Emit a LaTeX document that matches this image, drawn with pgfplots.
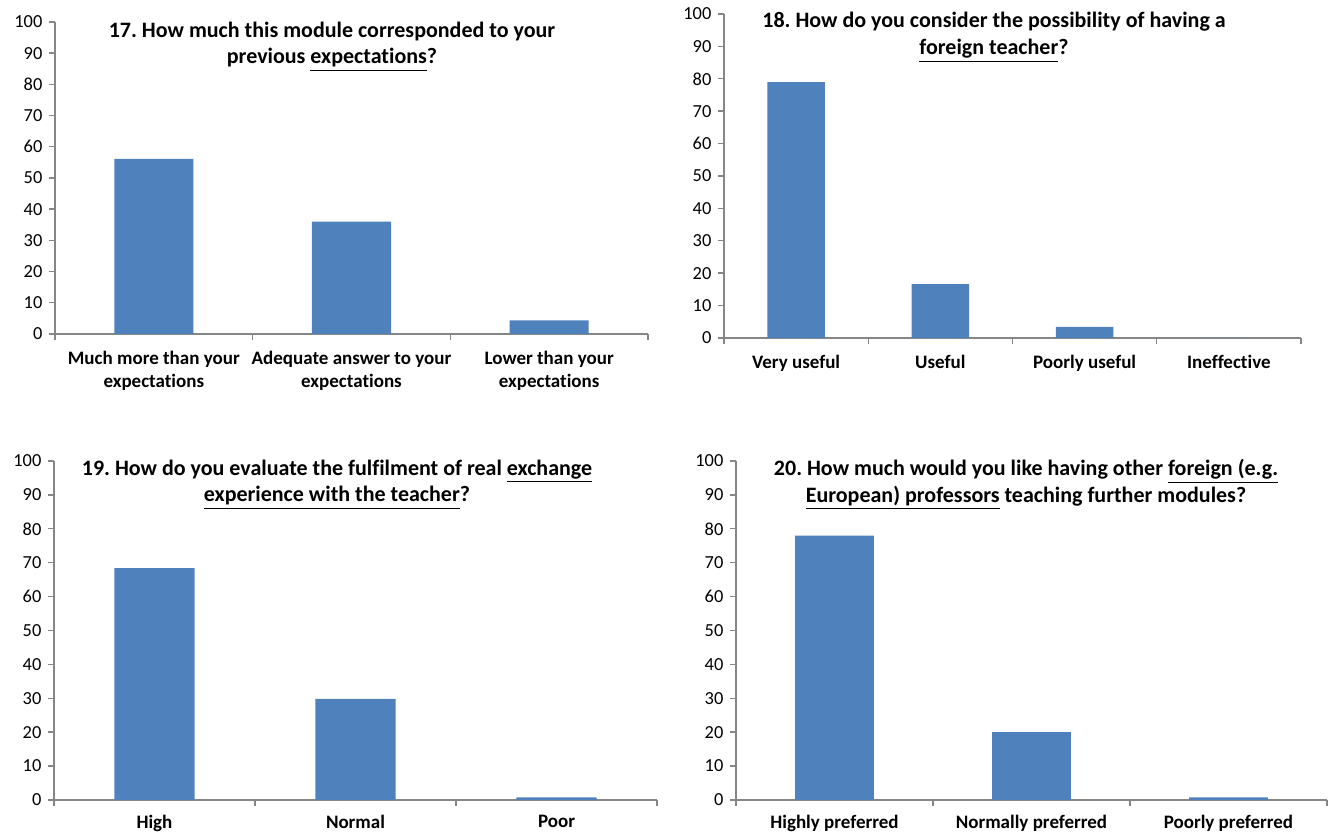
\documentclass[border=0pt]{standalone}
\usepackage{fontspec}
\setmainfont{Carlito}[Ligatures=NoCommon]
\usepackage{pgfplots}
\pgfplotsset{compat=1.18}
\frenchspacing

\definecolor{barblue}{HTML}{4F81BD}
\definecolor{axisgray}{HTML}{868686}

\pgfplotsset{
  survey/.style={
    scale only axis,
    anchor=south west,
    ymin=0, ymax=100, ytick={0,10,...,100},
    enlargelimits=false,
    axis lines*=left,
    axis line style={axisgray, line width=0.7pt},
    every tick/.style={axisgray, line width=0.7pt},
    tick align=outside,
    major tick length=2.8pt,
    minor tick length=2.8pt,
    major x tick style={draw=none},
    ybar, bar width=0.4,
    /pgf/number format/assume math mode=true,
    xticklabel style={font=\bfseries\fontsize{9.5}{11.5}\selectfont, align=center, text=black, yshift=-2.5pt},
    yticklabel style={font=\fontsize{9.2}{10}\selectfont, text=black},
  },
  survey bar/.style={fill=barblue, draw=none},
}

\begin{document}
\begin{tikzpicture}
\useasboundingbox (0,0) rectangle (664.5pt,417pt);

% Question 17
\begin{axis}[survey, at={(27.5pt,250pt)}, width=296.5pt, height=156pt,
  xmin=-0.5, xmax=2.5, xtick={0,1,2},
  minor xtick={-0.5,0.5,1.5,2.5},
  xticklabels={{Much more than your\\expectations},{Adequate answer to your\\expectations},{Lower than your\\expectations}}]
  \addplot[survey bar] coordinates {(0,56.1) (1,36.0) (2,4.4)};
\end{axis}

% Question 18
\begin{axis}[survey, at={(362pt,248pt)}, width=288.5pt, height=162pt,
  xmin=-0.5, xmax=3.5, xtick={0,1,2,3},
  minor xtick={-0.5,0.5,1.5,2.5,3.5},
  xticklabels={Very useful,Useful,Poorly useful,Ineffective}]
  \addplot[survey bar] coordinates {(0,79.0) (1,16.6) (2,3.4) (3,0)};
\end{axis}

% Question 19
\begin{axis}[survey, at={(27pt,17pt)}, width=301.5pt, height=169.5pt,
  xmin=-0.5, xmax=2.5, xtick={0,1,2},
  minor xtick={-0.5,0.5,1.5,2.5},
  xticklabel style={yshift=1.2pt},
  xticklabels={High,Normal,Poor}]
  \addplot[survey bar] coordinates {(0,68.4) (1,29.8) (2,0.8)};
\end{axis}

% Question 20
\begin{axis}[survey, at={(368pt,17pt)}, width=295.5pt, height=169.5pt,
  xmin=-0.5, xmax=2.5, xtick={0,1,2},
  minor xtick={-0.5,0.5,1.5,2.5},
  xticklabel style={yshift=1.2pt},
  xticklabels={Highly preferred,Normally preferred,Poorly preferred}]
  \addplot[survey bar] coordinates {(0,78.0) (1,20.0) (2,0.8)};
\end{axis}

% Chart titles
\begin{scope}[every node/.style={align=center, font=\bfseries\fontsize{11}{13.4}\selectfont}]
  \node at (166pt,393.75pt) {17. How much this module corresponded to your\\previous \underline{expectations}?};
  \node at (497pt,398.25pt) {18. How do you consider the possibility of having a\\\underline{foreign teacher}?};
  \node at (168.5pt,174.75pt) {19. How do you evaluate the fulfilment of real \underline{exchange}\\\underline{experience with the teacher}?};
  \node at (513pt,174.75pt) {20. How much would you like having other \underline{foreign (e.g.}\\\underline{European) professors} teaching further modules?};
\end{scope}
\end{tikzpicture}
\end{document}
